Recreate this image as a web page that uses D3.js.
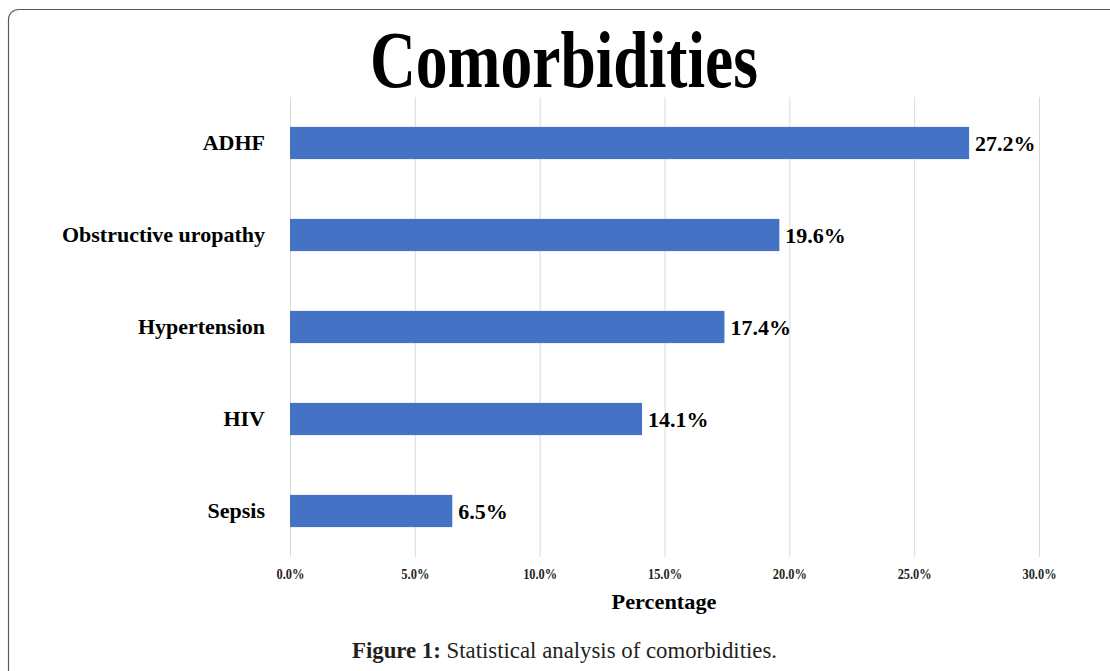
<!DOCTYPE html>
<html>
<head>
<meta charset="utf-8">
<script src="https://cdn.jsdelivr.net/npm/d3@7/dist/d3.min.js"></script>
<style>
  html, body { margin: 0; padding: 0; background: #fff; }
  svg { display: block; }
  text { font-family: "Liberation Serif", "Times New Roman", serif; }
</style>
</head>
<body>
<svg id="chart" width="1110" height="671"></svg>
<script>
const categories = ["ADHF", "Obstructive uropathy", "Hypertension", "HIV", "Sepsis"];
const values = [27.2, 19.6, 17.4, 14.1, 6.5];
const tickValues = [0, 5, 10, 15, 20, 25, 30];
const titleText = "Comorbidities";
const axisTitle = "Percentage";
const captionBold = "Figure 1:";
const captionRest = " Statistical analysis of comorbidities.";

const svg = d3.select("#chart");
const SERIF = '"Liberation Serif", "Times New Roman", serif';

// frame
svg.append("rect")
  .attr("x", 8.5).attr("y", 9.5)
  .attr("width", 1200).attr("height", 700)
  .attr("rx", 10).attr("ry", 10)
  .attr("fill", "none").attr("stroke", "#5a5a5a").attr("stroke-width", 1.2);

const margin = { left: 290, right: 1039, top: 97, bottom: 557 };

const x = d3.scaleLinear().domain([0, 30]).range([margin.left, margin.right]);
const y = d3.scaleBand().domain(categories).range([margin.top, margin.bottom]).paddingInner(0.65).paddingOuter(0.325);

// title
svg.append("text")
  .attr("x", 564).attr("y", 87)
  .attr("text-anchor", "middle")
  .style("font-family", SERIF)
  .style("font-size", "80px").style("font-weight", "bold")
  .attr("textLength", 388).attr("lengthAdjust", "spacingAndGlyphs")
  .attr("fill", "#000")
  .text(titleText);

// gridlines
svg.append("g")
  .selectAll("line")
  .data(tickValues)
  .join("line")
  .attr("x1", d => x(d) + 0.5).attr("x2", d => x(d) + 0.5)
  .attr("y1", margin.top).attr("y2", margin.bottom)
  .attr("stroke", "#d9d9d9").attr("stroke-width", 1);

// x axis tick labels
const xAxis = d3.axisBottom(x)
  .tickValues(tickValues)
  .tickFormat(d => d.toFixed(1) + "%")
  .tickSize(0).tickPadding(0);
const gx = svg.append("g").attr("transform", `translate(0, ${margin.bottom + 11})`).call(xAxis);
gx.select(".domain").remove();
gx.selectAll("text")
  .style("font-family", SERIF)
  .style("font-size", "15px").style("font-weight", "bold")
  .attr("fill", "#222")
  .attr("textLength", 28).attr("lengthAdjust", "spacingAndGlyphs");
gx.selectAll(".tick").filter(d => d >= 10).selectAll("text").attr("textLength", 34);

// y axis labels
const yAxis = d3.axisLeft(y).tickSize(0).tickPadding(25);
const gy = svg.append("g").attr("transform", `translate(${margin.left}, 0)`).call(yAxis);
gy.select(".domain").remove();
gy.selectAll("text")
  .style("font-family", SERIF)
  .style("font-size", "22px").style("font-weight", "bold")
  .attr("fill", "#000");

// bars
svg.append("g")
  .selectAll("rect")
  .data(categories.map((c, i) => ({ c, v: values[i] })))
  .join("rect")
  .attr("x", x(0))
  .attr("y", d => y(d.c))
  .attr("width", d => x(d.v) - x(0))
  .attr("height", y.bandwidth())
  .attr("fill", "#4472C4");

// value labels
svg.append("g")
  .selectAll("text")
  .data(categories.map((c, i) => ({ c, v: values[i] })))
  .join("text")
  .attr("x", d => x(d.v) + 6)
  .attr("y", d => y(d.c) + y.bandwidth() / 2)
  .attr("dy", "0.36em")
  .style("font-family", SERIF)
  .style("font-size", "22px").style("font-weight", "bold")
  .attr("fill", "#000")
  .text(d => d.v.toFixed(1) + "%");

// axis title
svg.append("text")
  .attr("x", 664).attr("y", 609)
  .attr("text-anchor", "middle")
  .style("font-family", SERIF)
  .style("font-size", "22px").style("font-weight", "bold")
  .attr("textLength", 105).attr("lengthAdjust", "spacingAndGlyphs")
  .attr("fill", "#000")
  .text(axisTitle);

// caption
const cap = svg.append("text")
  .attr("x", 352).attr("y", 658)
  .style("font-family", SERIF)
  .style("font-size", "23px")
  .attr("textLength", 425).attr("lengthAdjust", "spacingAndGlyphs")
  .attr("fill", "#231f20");
cap.append("tspan").style("font-weight", "bold").text(captionBold);
cap.append("tspan").text(captionRest);
</script>
</body>
</html>
